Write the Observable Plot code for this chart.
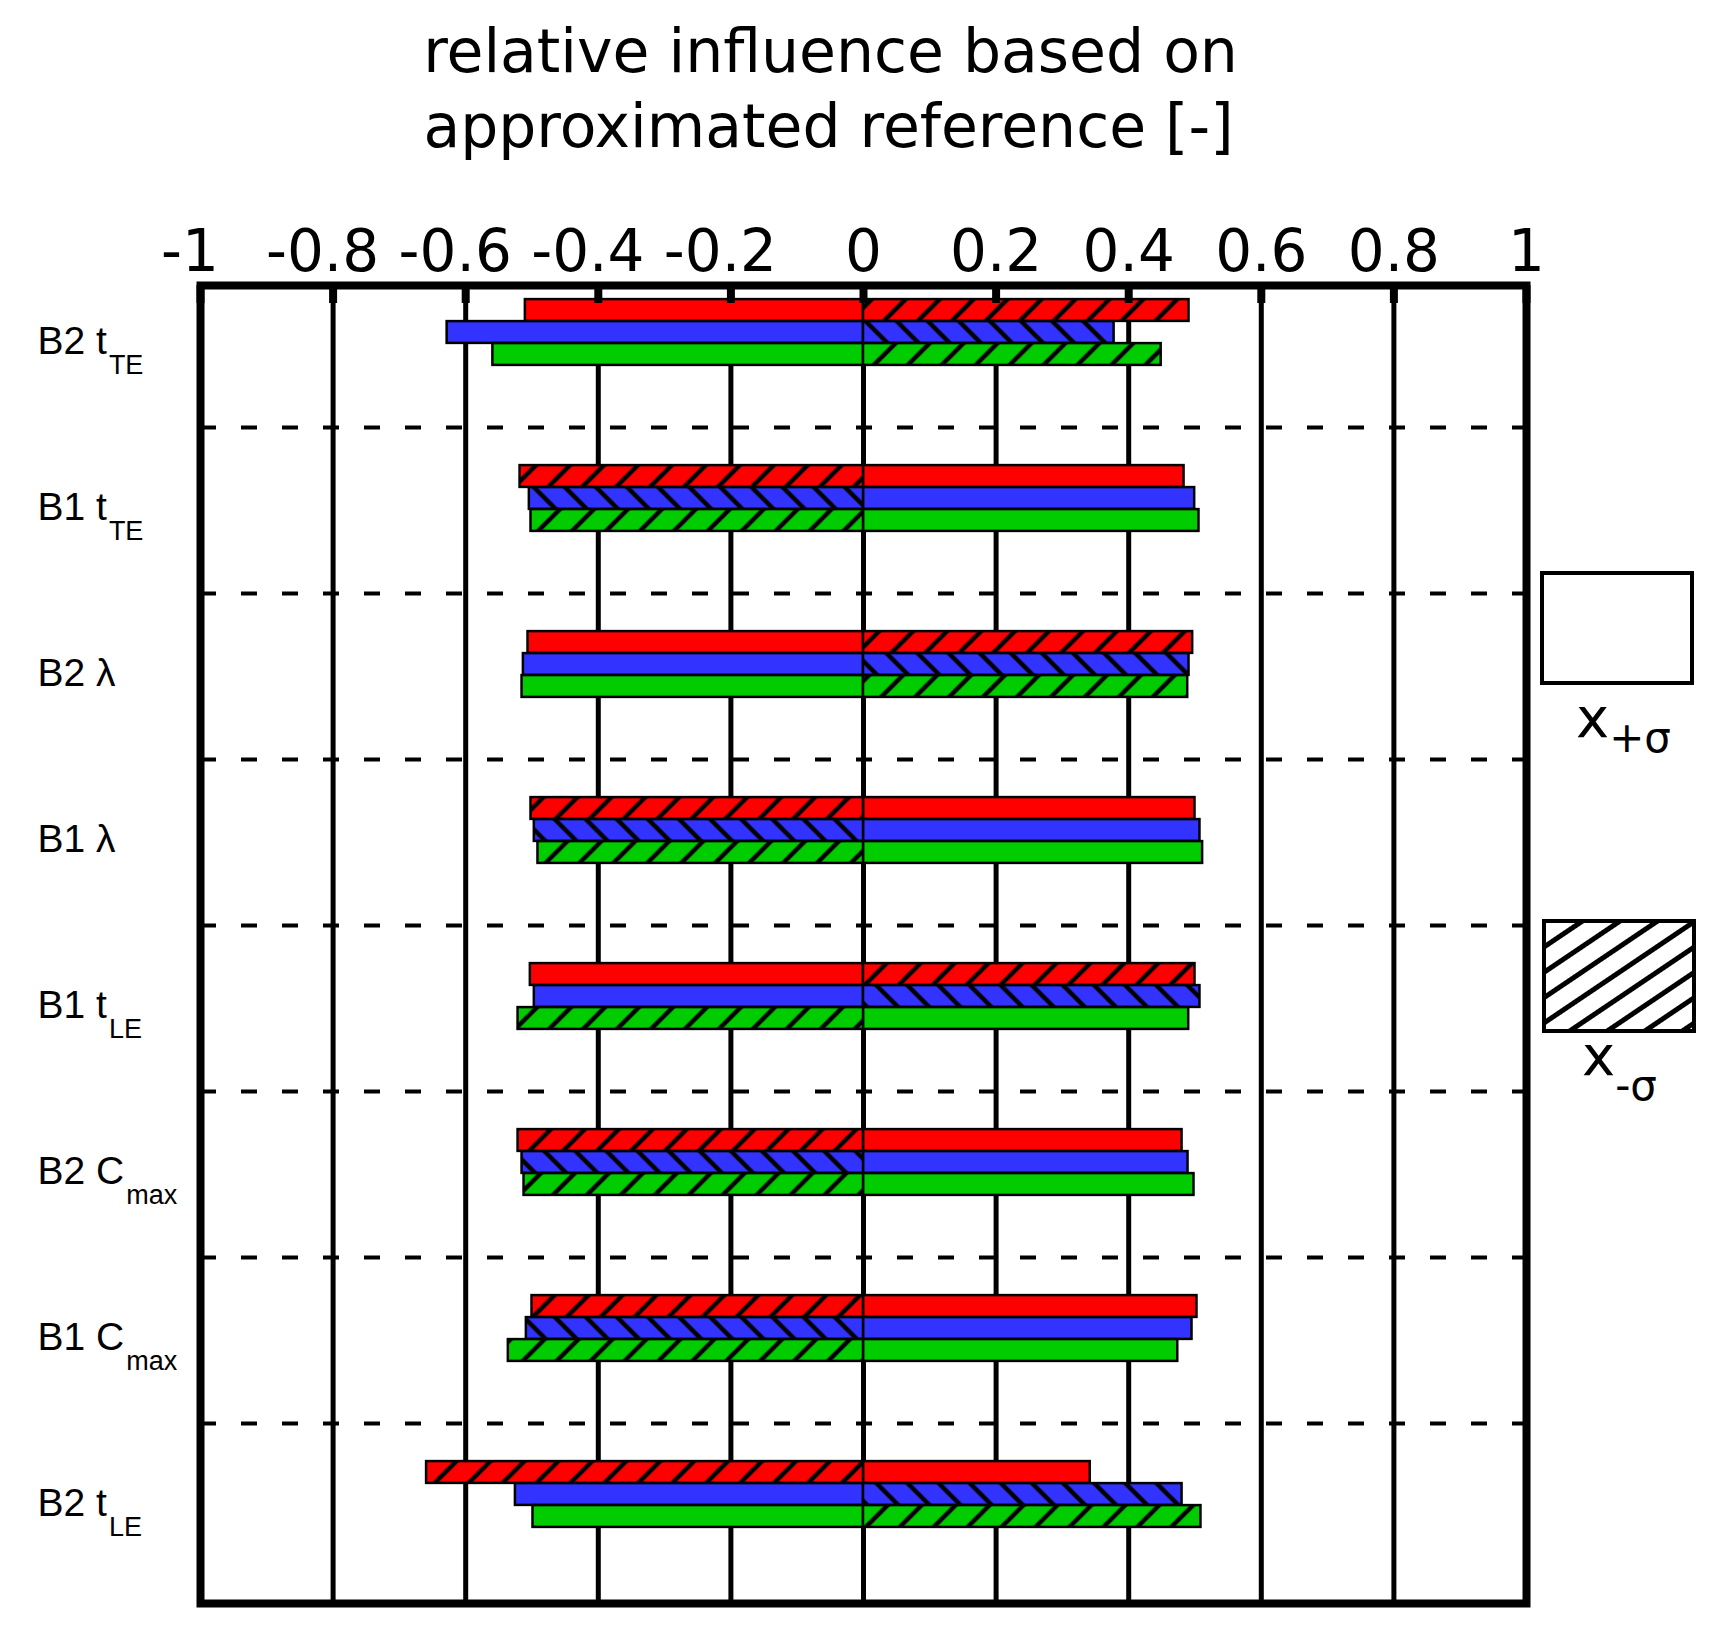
<!DOCTYPE html>
<html>
<head>
<meta charset="utf-8">
<script src="https://cdn.jsdelivr.net/npm/d3@7"></script>
<script src="https://cdn.jsdelivr.net/npm/@observablehq/plot@0.6"></script>
<style>
  html, body { margin: 0; padding: 0; background: #fff; }
</style>
</head>
<body>
<div id="chart"></div>
<script>
// ---------- data ----------
const categories = ["B2 tTE", "B1 tTE", "B2 λ", "B1 λ", "B1 tLE", "B2 Cmax", "B1 Cmax", "B2 tLE"];
const labelMain = ["B2 t", "B1 t", "B2 λ", "B1 λ", "B1 t", "B2 C", "B1 C", "B2 t"];
const labelSub = ["TE", "TE", "", "", "LE", "max", "max", "LE"];

const seriesNames = ["series 1", "series 2", "series 3"];
const seriesColors = ["#ff0000", "#3333ff", "#00cc00"];

// relative influence for x + sigma (solid bars)
const red_plusSigma   = [-0.510, 0.4835, -0.506, 0.500, -0.5025, 0.4805, 0.503, 0.342];
const blue_plusSigma  = [-0.628, 0.4995, -0.513, 0.5075, -0.4965, 0.4895, 0.4955, -0.525];
const green_plusSigma = [-0.559, 0.506, -0.515, 0.5115, 0.4905, 0.4985, 0.474, -0.4985];
// relative influence for x - sigma (hatched bars)
const red_minusSigma   = [0.491, -0.518, 0.4965, -0.5015, 0.500, -0.521, -0.500, -0.659];
const blue_minusSigma  = [0.378, -0.504, 0.491, -0.4965, 0.5075, -0.515, -0.5085, 0.4805];
const green_minusSigma = [0.449, -0.5015, 0.489, -0.491, -0.521, -0.512, -0.5357, 0.509];

const tickValues = [-1, -0.8, -0.6, -0.4, -0.2, 0, 0.2, 0.4, 0.6, 0.8, 1];
const tickLabels = ["-1", "-0.8", "-0.6", "-0.4", "-0.2", "0", "0.2", "0.4", "0.6", "0.8", "1"];

const titleLines = ["relative influence based on", "approximated reference [-]"];
const legendLabels = [{base: "x", sub: "+σ"}, {base: "x", sub: "-σ"}];

// ---------- layout ----------
const W = 1731, H = 1644;
const mL = 200, mR = 205, mT = 285, mB = 41;
const plotH = H - mT - mB;
const step = 166.2;
const firstCenter = 331;
const yStart = firstCenter - step / 2;
const yEnd = yStart + step * categories.length;
const barH = 22;

const plusSigma = [red_plusSigma, blue_plusSigma, green_plusSigma];
const minusSigma = [red_minusSigma, blue_minusSigma, green_minusSigma];

const rows = [];
categories.forEach((c, i) => {
  seriesNames.forEach((s, k) => {
    rows.push({category: c, series: s, k, sigma: "+", value: plusSigma[k][i]});
    rows.push({category: c, series: s, k, sigma: "-", value: minusSigma[k][i]});
  });
});

const barMarks = [];
seriesNames.forEach((s, k) => {
  const top = step / 2 - 1.5 * barH + barH * k;
  const bottom = step - top - barH;
  ["+", "-"].forEach(sg => {
    barMarks.push(Plot.barX(rows.filter(d => d.k === k && d.sigma === sg), {
      x1: 0, x2: "value", y: "category",
      fill: sg === "+" ? seriesColors[k] : `url(#hatch-${k})`,
      stroke: "black", strokeWidth: 2.5,
      insetTop: top, insetBottom: bottom
    }));
  });
});

const negTicks = tickValues.filter(d => d < 0);
const posTicks = tickValues.filter(d => d >= 0);
const fmt = d => tickLabels[tickValues.indexOf(d)];

const plot = Plot.plot({
  width: W, height: H,
  marginLeft: mL, marginRight: mR, marginTop: mT, marginBottom: mB,
  style: {fontFamily: "DejaVu Sans", color: "black", background: "white"},
  x: {domain: [-1, 1], label: null, axis: null},
  y: {domain: categories, range: [yStart, yEnd], padding: 0, axis: null, label: null},
  marks: [
    Plot.ruleX(tickValues, {x: d => d, stroke: "black", strokeWidth: 5}),
    Plot.ruleY(categories.slice(0, -1), {y: d => d, dy: step / 2 + 12, stroke: "black", strokeWidth: 4, strokeDasharray: "16,25"}),
    ...barMarks,
    Plot.ruleX(tickValues, {x: d => d, stroke: "black", strokeWidth: 8, insetBottom: plotH - 18}),
    Plot.frame({stroke: "black", strokeWidth: 8}),
    Plot.text(negTicks, {x: d => d, text: fmt, frameAnchor: "top", lineAnchor: "bottom", dy: -15, dx: -10.5, fontSize: 58, fill: "black"}),
    Plot.text(posTicks, {x: d => d, text: fmt, frameAnchor: "top", lineAnchor: "bottom", dy: -15, fontSize: 58, fill: "black"}),
    Plot.text([titleLines[0]], {frameAnchor: "top", lineAnchor: "bottom", dx: -33, dy: 71 - mT, fontSize: 60, fill: "black"}),
    Plot.text([titleLines[1]], {frameAnchor: "top", lineAnchor: "bottom", dx: -35, dy: 146 - mT, fontSize: 60, fill: "black"}),
    Plot.text(categories, {y: d => d, text: (d, i) => labelMain[i], frameAnchor: "left", textAnchor: "start", lineAnchor: "bottom", dx: 37 - mL, dy: 21, fontSize: 39, fontFamily: "Liberation Sans, Arial, sans-serif", fill: "black"})
  ]
});

document.getElementById("chart").appendChild(plot);

// ---------- patterns ----------
const svg = d3.select(plot);
const defs = svg.insert("defs", ":first-child");
function hatch(id, bg, angle, period, sw) {
  const p = defs.append("pattern")
    .attr("id", id)
    .attr("patternUnits", "userSpaceOnUse")
    .attr("width", period).attr("height", period)
    .attr("patternTransform", `rotate(${angle})`);
  p.append("rect").attr("width", period).attr("height", period).attr("fill", bg);
  p.append("line")
    .attr("x1", period / 2).attr("x2", period / 2)
    .attr("y1", -1).attr("y2", period + 1)
    .attr("stroke", "black").attr("stroke-width", sw);
}
hatch("hatch-0", seriesColors[0], 45, 24, 4.5);
hatch("hatch-1", seriesColors[1], -45, 22, 4.5);
hatch("hatch-2", seriesColors[2], 45, 24, 4.5);
hatch("hatch-legend", "white", 56, 21, 5);

// ---------- subscripts on category labels ----------
svg.selectAll('g[font-family^="Liberation Sans"] text').each(function (d, j) {
  const sub = labelSub[j];
  if (sub) {
    d3.select(this).append("tspan").attr("dy", 20).attr("dx", 2).attr("font-size", 27).text(sub);
  }
});

// ---------- legend ----------
const lg = svg.append("g").attr("font-family", "DejaVu Sans").attr("fill", "black").attr("text-anchor", "start");
lg.append("rect").attr("x", 1542).attr("y", 573).attr("width", 150).attr("height", 110)
  .attr("fill", "white").attr("stroke", "black").attr("stroke-width", 4);
lg.append("rect").attr("x", 1544).attr("y", 921).attr("width", 150).attr("height", 110)
  .attr("fill", "url(#hatch-legend)").attr("stroke", "black").attr("stroke-width", 4);
const t1 = lg.append("text").attr("x", 1576).attr("y", 737).attr("font-size", 56);
t1.append("tspan").text(legendLabels[0].base);
t1.append("tspan").attr("dy", 15).attr("font-size", 42).text(legendLabels[0].sub);
const t2 = lg.append("text").attr("x", 1582).attr("y", 1075).attr("font-size", 56);
t2.append("tspan").text(legendLabels[1].base);
t2.append("tspan").attr("dy", 25).attr("font-size", 42).text(legendLabels[1].sub);
</script>
</body>
</html>
